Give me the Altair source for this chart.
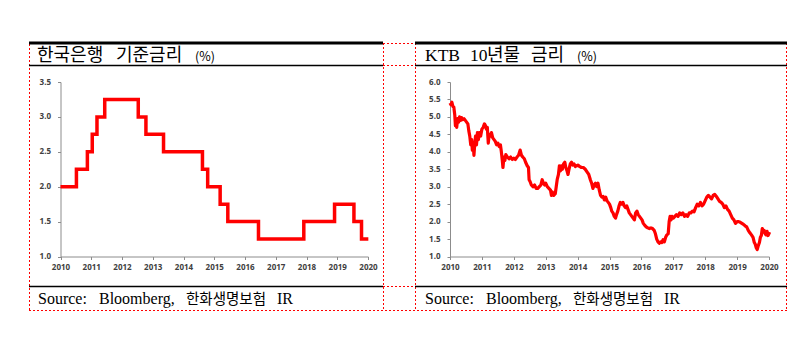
import altair as alt
import pandas as pd

# ---------------- data ----------------
bok_dates = ["2010-01-01", "2010-07-09", "2010-11-16", "2011-01-13", "2011-03-10",
             "2011-06-10", "2012-07-12", "2012-10-11", "2013-05-09", "2014-08-14",
             "2014-10-15", "2015-03-12", "2015-06-11", "2016-06-09", "2017-11-30",
             "2018-11-30", "2019-07-18", "2019-10-16", "2020-01-05"]
bok_rates = [2.00, 2.25, 2.50, 2.75, 3.00,
             3.25, 3.00, 2.75, 2.50, 2.25,
             2.00, 1.75, 1.50, 1.25, 1.50,
             1.75, 1.50, 1.25, 1.25]

ktb_years = [2010.00, 2010.03, 2010.06, 2010.09, 2010.12, 2010.15, 2010.17, 2010.19, 2010.21, 2010.24,
             2010.27, 2010.30, 2010.33, 2010.36, 2010.40, 2010.44, 2010.48, 2010.52, 2010.56, 2010.59,
             2010.62, 2010.65, 2010.68, 2010.70, 2010.73, 2010.75, 2010.77, 2010.80, 2010.83, 2010.86,
             2010.89, 2010.92, 2010.96, 2011.00, 2011.04, 2011.08, 2011.11, 2011.14, 2011.17, 2011.20,
             2011.23, 2011.27, 2011.30, 2011.34, 2011.38, 2011.42, 2011.46, 2011.50, 2011.54, 2011.58,
             2011.61, 2011.64, 2011.66, 2011.69, 2011.72, 2011.75, 2011.80, 2011.85, 2011.90, 2011.95,
             2012.00, 2012.05, 2012.10, 2012.15, 2012.20, 2012.24, 2012.28, 2012.33, 2012.37, 2012.42,
             2012.46, 2012.48, 2012.51, 2012.55, 2012.60, 2012.65, 2012.70, 2012.75, 2012.80, 2012.85,
             2012.89, 2012.93, 2012.97, 2013.00, 2013.05, 2013.10, 2013.15, 2013.18, 2013.21, 2013.25,
             2013.30, 2013.33, 2013.36, 2013.40, 2013.43, 2013.46, 2013.49, 2013.52, 2013.56, 2013.60,
             2013.63, 2013.67, 2013.70, 2013.73, 2013.77, 2013.81, 2013.85, 2013.89, 2013.93, 2013.97,
             2014.01, 2014.06, 2014.12, 2014.18, 2014.24, 2014.30, 2014.35, 2014.40, 2014.44, 2014.48,
             2014.52, 2014.56, 2014.60, 2014.64, 2014.68, 2014.72, 2014.76, 2014.80, 2014.84, 2014.88,
             2014.92, 2014.96, 2015.00, 2015.04, 2015.07, 2015.11, 2015.15, 2015.19, 2015.22, 2015.26,
             2015.30, 2015.34, 2015.38, 2015.42, 2015.46, 2015.50, 2015.54, 2015.58, 2015.62, 2015.66,
             2015.70, 2015.74, 2015.78, 2015.82, 2015.86, 2015.90, 2015.94, 2015.98, 2016.02, 2016.06,
             2016.10, 2016.15, 2016.20, 2016.25, 2016.30, 2016.35, 2016.40, 2016.44, 2016.48, 2016.52,
             2016.56, 2016.60, 2016.64, 2016.68, 2016.72, 2016.76, 2016.80, 2016.84, 2016.87, 2016.90,
             2016.93, 2016.96, 2017.00, 2017.05, 2017.10, 2017.15, 2017.20, 2017.25, 2017.30, 2017.35,
             2017.40, 2017.45, 2017.50, 2017.55, 2017.60, 2017.65, 2017.70, 2017.75, 2017.80, 2017.85,
             2017.90, 2017.95, 2018.00, 2018.05, 2018.10, 2018.15, 2018.20, 2018.25, 2018.30, 2018.35,
             2018.40, 2018.45, 2018.50, 2018.55, 2018.60, 2018.65, 2018.70, 2018.75, 2018.80, 2018.85,
             2018.90, 2018.95, 2019.00, 2019.05, 2019.10, 2019.15, 2019.20, 2019.25, 2019.30, 2019.35,
             2019.40, 2019.45, 2019.50, 2019.54, 2019.57, 2019.60, 2019.63, 2019.66, 2019.70, 2019.73,
             2019.76, 2019.79, 2019.82, 2019.85, 2019.88, 2019.91, 2019.94, 2019.97, 2020.02]
ktb_yields = [5.40, 5.35, 5.42, 5.30, 5.28, 5.05, 4.75, 4.90, 4.70, 4.95,
              4.85, 5.00, 4.90, 4.98, 4.92, 4.95, 4.90, 4.85, 4.80, 4.60,
              4.45, 4.20, 4.35, 4.05, 4.25, 3.90, 4.15, 4.45, 4.20, 4.55,
              4.35, 4.55, 4.45, 4.65, 4.70, 4.80, 4.75, 4.65, 4.70, 4.25,
              4.50, 4.45, 4.55, 4.40, 4.35, 4.30, 4.20, 4.25, 4.15, 4.20,
              4.00, 3.75, 3.55, 3.85, 3.75, 3.92, 3.85, 3.80, 3.85, 3.78,
              3.82, 3.78, 3.85, 3.90, 4.05, 3.90, 3.85, 3.80, 3.70, 3.60,
              3.55, 3.20, 3.15, 3.05, 3.00, 3.05, 2.95, 2.95, 3.00, 3.05,
              3.20, 3.10, 3.05, 3.10, 3.00, 2.95, 2.90, 2.75, 2.85, 2.75,
              2.80, 3.00, 3.20, 3.35, 3.60, 3.45, 3.60, 3.50, 3.65, 3.70,
              3.55, 3.45, 3.35, 3.50, 3.65, 3.70, 3.62, 3.65, 3.58, 3.60,
              3.62, 3.58, 3.55, 3.55, 3.50, 3.42, 3.35, 3.20, 3.10, 2.95,
              3.05, 3.10, 3.00, 3.10, 2.90, 2.75, 2.70, 2.72, 2.62, 2.70,
              2.60, 2.55, 2.50, 2.40, 2.30, 2.25, 2.15, 2.10, 2.20, 2.30,
              2.45, 2.55, 2.50, 2.55, 2.45, 2.40, 2.45, 2.35, 2.25, 2.20,
              2.15, 2.10, 2.05, 2.25, 2.30, 2.20, 2.15, 2.10, 2.05, 1.95,
              1.90, 1.85, 1.82, 1.80, 1.82, 1.80, 1.75, 1.65, 1.50, 1.42,
              1.38, 1.42, 1.40, 1.48, 1.42, 1.55, 1.62, 1.65, 2.00, 2.15,
              2.05, 2.15, 2.10, 2.15, 2.20, 2.15, 2.25, 2.20, 2.25, 2.15,
              2.20, 2.15, 2.25, 2.25, 2.30, 2.28, 2.40, 2.50, 2.45, 2.55,
              2.45, 2.50, 2.60, 2.70, 2.75, 2.70, 2.65, 2.75, 2.78, 2.72,
              2.65, 2.58, 2.55, 2.50, 2.40, 2.45, 2.35, 2.30, 2.20, 2.10,
              2.05, 1.95, 2.00, 2.00, 1.98, 1.95, 1.92, 1.88, 1.85, 1.75,
              1.68, 1.62, 1.55, 1.40, 1.35, 1.25, 1.20, 1.30, 1.40, 1.55,
              1.60, 1.80, 1.70, 1.75, 1.65, 1.62, 1.72, 1.60, 1.70]

year_ticks = list(range(2010, 2021))
left_y_ticks = [1.0, 1.5, 2.0, 2.5, 3.0, 3.5]
right_y_ticks = [1.0, 1.5, 2.0, 2.5, 3.0, 3.5, 4.0, 4.5, 5.0, 5.5, 6.0]

left_title_parts = ["한국은행", "기준금리"]
right_title_parts = ["KTB", "10", "년물", "금리"]
unit_label = "(%)"
source_parts = ["Source:", "Bloomberg,", "한화생명보험", "IR"]

d = pd.to_datetime(bok_dates)
bok = pd.DataFrame({"year": d.year + (d.dayofyear - 1) / 365.0, "rate": bok_rates})
ktb = pd.DataFrame({"year": ktb_years, "yld": ktb_yields})

# ---------------- layout ----------------
W, H = 811, 352
AXIS_Y = 256.5
TOP_Y = 82
one = pd.DataFrame({"a": [0]})

LABEL = dict(labelFont="Open Sans", labelFontSize=8, labelFontWeight="bold",
             labelColor="#404040", domainColor="#8c8c8c", tickColor="#8c8c8c",
             tickSize=3, grid=False, title=None, labelFlush=False, labelOverlap=False)


def x_axis():
    return alt.Axis(values=year_ticks, format="d", orient="bottom",
                    offset=-(H - AXIS_Y), labelPadding=4, **LABEL)


def y_axis(xpos, vals):
    return alt.Axis(values=vals, format=".1f", orient="left", offset=-xpos,
                    labelPadding=7, **LABEL)


left_line = alt.Chart(bok).mark_line(
    interpolate="step-after", color="#ff0000", strokeWidth=3.5,
    strokeJoin="miter", strokeCap="butt"
).encode(
    x=alt.X("year:Q", scale=alt.Scale(domain=[2010, 2020], range=[60.5, 368], nice=False, zero=False),
            axis=x_axis()),
    y=alt.Y("rate:Q", scale=alt.Scale(domain=[1, 3.5], range=[AXIS_Y, TOP_Y], nice=False, zero=False),
            axis=y_axis(60.5, left_y_ticks)),
)

right_line = alt.Chart(ktb).mark_line(
    color="#ff0000", strokeWidth=3.2, strokeJoin="round"
).encode(
    x=alt.X("year:Q", scale=alt.Scale(domain=[2010, 2020], range=[450, 769], nice=False, zero=False),
            axis=x_axis()),
    y=alt.Y("yld:Q", scale=alt.Scale(domain=[1, 6], range=[AXIS_Y, TOP_Y], nice=False, zero=False),
            axis=y_axis(450, right_y_ticks)),
)


def hline(x1, x2, y, color="black", width=1.0, dash=None):
    kw = dict(color=color, strokeWidth=width)
    if dash:
        kw["strokeDash"] = dash
    return alt.Chart(one).mark_rule(**kw).encode(
        x=alt.value(x1), x2=alt.value(x2), y=alt.value(y))


def vline(x, y1, y2, color="red", width=1.0, dash=None):
    kw = dict(color=color, strokeWidth=width)
    if dash:
        kw["strokeDash"] = dash
    return alt.Chart(one).mark_rule(**kw).encode(
        x=alt.value(x), y=alt.value(y1), y2=alt.value(y2))


SERIF = "'Liberation Serif'"
KR = "'Noto Sans CJK KR'"


def label(txt, x, y, size, font=SERIF, color="black"):
    return alt.Chart(one).mark_text(
        align="left", baseline="alphabetic", font=font, fontSize=size, color=color
    ).encode(x=alt.value(x), y=alt.value(y), text=alt.value(txt))


def source(x0):
    return [
        label(source_parts[0], x0, 304, 16, SERIF),
        label(source_parts[1], x0 + 61, 304, 16, SERIF),
        label(source_parts[2], x0 + 148, 304, 14.5, KR),
        label(source_parts[3], x0 + 239, 304, 16, SERIF),
    ]


DOT = [2, 2]
RED = "#ff0000"
deco = [
    # red dotted frame
    hline(383, 415, 43.5, RED, 1, DOT),
    hline(383, 415, 65.5, RED, 1, DOT),
    hline(383, 415, 286.5, RED, 1, DOT),
    hline(29, 787, 310.5, RED, 1, DOT),
    vline(29.5, 44, 310.5, RED, 1, DOT),
    vline(383.5, 43, 310.5, RED, 1, DOT),
    vline(415.5, 43, 310.5, RED, 1, DOT),
    vline(786.5, 43, 310.5, RED, 1, DOT),
    # black rules
    hline(29, 383, 43, "black", 3.2),
    hline(415, 787, 43, "black", 3.2),
    hline(29, 383, 65.5, "black", 1.3),
    hline(415, 787, 65.5, "black", 1.3),
    hline(29, 383, 286.5, "black", 1.3),
    hline(415, 787, 286.5, "black", 1.3),
    # titles
    label(left_title_parts[0], 37, 61, 18, KR),
    label(left_title_parts[1], 116, 61, 18, KR),
    label(unit_label, 195, 61, 12.5, KR),
    label(right_title_parts[0], 425, 61, 17.5, SERIF),
    label(right_title_parts[1], 470, 61, 17.5, SERIF),
    label(right_title_parts[2], 487, 61, 18, KR),
    label(right_title_parts[3], 531, 61, 18, KR),
    label(unit_label, 577, 61, 12.5, KR),
] + source(38) + source(425)

chart = alt.layer(left_line, right_line, *deco).resolve_scale(
    x="independent", y="independent"
).resolve_axis(
    x="independent", y="independent"
).properties(
    width=W, height=H, autosize="none", padding=0
).configure_view(stroke=None)

chart.save("out.html", embed_options={"renderer": "svg", "actions": False})
